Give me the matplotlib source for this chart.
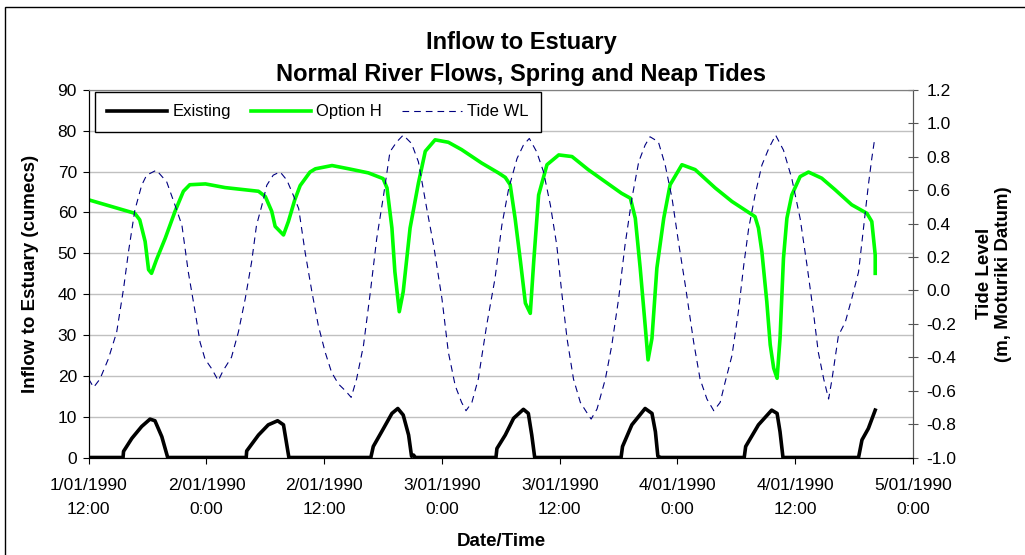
import matplotlib
matplotlib.use('Agg')
import matplotlib.pyplot as plt
from matplotlib.patches import Rectangle
from matplotlib.ticker import FormatStrFormatter

plt.rcParams['font.family'] = ['Liberation Sans', 'DejaVu Sans']
plt.rcParams['axes.unicode_minus'] = False

# hours after 1/01/1990 12:00
existingHours = [0, 3.5, 3.55, 4.4, 5.4, 6.25, 6.75, 7.45, 8.05, 16.05, 16.1, 17.3, 18.3, 19.25, 19.85, 20.4,
                 28.75, 29.0, 29.85, 30.9, 31.5, 32.05, 32.6, 32.9, 33.1, 33.3, 41.5, 41.6, 42.45, 43.3, 44.3,
                 44.8, 45.15, 45.45, 54.25, 54.4, 55.35, 56.7, 57.4, 57.75, 58.0, 58.3, 66.8, 66.95, 68.25,
                 69.6, 70.15, 70.45, 70.75, 78.45, 78.8, 79.45, 80.15]
existing = [0, 0, 1.5, 4.7, 7.6, 9.4, 9.0, 5.1, 0, 0, 1.6, 5.5, 8.0, 9.0, 8.0, 0,
            0, 2.7, 6.3, 10.8, 12.0, 10.4, 5.5, 0.3, 0.6, 0, 0, 2.2, 5.5, 9.6, 11.8,
            10.8, 5.5, 0, 0, 2.7, 8.0, 12.0, 10.8, 6.3, 0.3, 0, 0, 2.7, 8.0,
            11.6, 10.8, 6.3, 0, 0, 4.3, 7.1, 11.6]

optionHours = [0, 4.7, 5.2, 5.75, 6.1, 6.4, 6.9, 7.8, 8.8, 9.65, 10.3, 11.9, 13.9, 17.3, 18.0, 18.65, 19.0,
               19.85, 20.35, 21.0, 21.55, 22.55, 23.1, 24.8, 26.5, 28.5, 30.0, 30.4, 30.9, 31.2, 31.65,
               32.05, 32.75, 33.6, 34.3, 35.3, 36.65, 38.0, 40.05, 41.75, 42.45, 42.95, 43.45, 44.0, 44.5,
               45.0, 45.35, 45.85, 46.7, 47.9, 49.25, 50.9, 52.6, 54.3, 55.2, 55.7, 56.2, 56.7, 57.0, 57.4,
               57.9, 58.6, 59.25, 60.45, 61.8, 63.85, 65.55, 67.9, 68.25, 68.6, 69.1, 69.45, 69.8, 70.15,
               70.45, 70.8, 71.15, 71.65, 72.5, 73.35, 74.7, 76.05, 77.75, 79.3, 79.8, 80.15, 80.15]
optionH = [63.1, 59.8, 58.2, 52.9, 46.0, 45.1, 48.4, 53.7, 60.3, 65.2, 66.8, 67.0, 66.1, 65.2, 63.9, 60.3, 56.6,
           54.5, 57.8, 63.1, 66.6, 69.9, 70.7, 71.5, 70.7, 69.7, 68.3, 66.0, 56.2, 45.5, 35.7,
           40.6, 56.2, 67.2, 75.0, 77.8, 77.2, 75.4, 72.1, 69.7, 68.6, 66.8, 58.6, 48.0, 37.8,
           35.3, 48.0, 64.3, 71.7, 74.1, 73.7, 70.5, 67.6, 64.7, 63.5, 58.6, 46.4, 32.5, 23.9, 29.2,
           46.4, 58.6, 66.8, 71.7, 70.5, 66.0, 62.7, 59.0, 56.2, 50.4, 38.2, 27.6, 21.9, 19.4,
           29.2, 48.8, 58.6, 64.3, 68.8, 69.9, 68.4, 65.6, 61.9, 59.8, 57.8, 49.6, 45.1]

tideHours = [0, 0.5, 1.15, 2.0, 2.85, 3.55, 4.05, 4.7, 5.4, 5.9, 6.9, 7.95, 8.8, 9.5, 10.15, 10.85, 11.35,
             11.85, 12.55, 13.2, 13.7, 14.55, 15.25, 15.95, 16.6, 17.1, 17.65, 18.15, 18.8, 19.5, 20.2,
             20.85, 21.4, 22.05, 22.75, 23.4, 24.1, 24.75, 25.45, 26.15, 26.75, 27.3, 28.0, 28.7, 29.35,
             30.05, 30.7, 31.4, 32.05, 32.9, 33.6, 34.45, 35.15, 36.0, 36.65, 37.35, 38.0, 38.45, 39.05,
             39.7, 40.55, 41.4, 42.1, 42.8, 43.65, 44.3, 44.9, 45.65, 46.35, 47.05, 47.7, 48.2, 48.75,
             49.4, 50.1, 50.75, 51.2, 51.8, 52.65, 53.3, 54.0, 54.65, 55.35, 56.05, 56.7, 57.2, 58.05,
             58.75, 59.45, 60.1, 60.8, 61.65, 62.3, 63.0, 63.7, 64.35, 64.85, 65.55, 66.2, 66.75, 67.25,
             67.9, 68.6, 69.3, 70.0, 70.8, 71.65, 72.5, 73.2, 73.85, 74.35, 74.9, 75.4, 75.75, 76.4,
             77.1, 77.75, 78.45, 78.95, 79.45, 79.8, 80.1]
tideWL = [-0.53, -0.58, -0.53, -0.41, -0.25, 0.01, 0.23, 0.48, 0.63, 0.69, 0.72, 0.65, 0.51, 0.39, 0.11, -0.13, -0.31,
          -0.41, -0.47, -0.54, -0.48, -0.40, -0.25, -0.05, 0.17, 0.39, 0.51, 0.63, 0.69, 0.71, 0.66,
          0.57, 0.49, 0.23, -0.01, -0.21, -0.37, -0.49, -0.56, -0.60, -0.64, -0.53, -0.33, -0.01, 0.31,
          0.57, 0.83, 0.89, 0.93, 0.88, 0.77, 0.49, 0.27, -0.05, -0.37, -0.57, -0.67, -0.72, -0.67,
          -0.53, -0.21, 0.07, 0.39, 0.61, 0.79, 0.87, 0.91, 0.83, 0.71, 0.51, 0.27, -0.01, -0.29,
          -0.53, -0.67, -0.73, -0.77, -0.71, -0.53, -0.33, -0.05, 0.27, 0.55, 0.77, 0.87, 0.92, 0.89,
          0.75, 0.55, 0.29, 0.03, -0.31, -0.53, -0.65, -0.72, -0.67, -0.55, -0.39, -0.13, 0.15, 0.37,
          0.57, 0.75, 0.85, 0.93, 0.84, 0.67, 0.43, 0.15, -0.13, -0.37, -0.53, -0.65, -0.53, -0.27,
          -0.19, -0.05, 0.11, 0.37, 0.63, 0.79, 0.91]

xTicks = [0, 12, 24, 36, 48, 60, 72, 84]
xTickLabels = ['1/01/1990\n12:00', '2/01/1990\n0:00', '2/01/1990\n12:00', '3/01/1990\n0:00',
               '3/01/1990\n12:00', '4/01/1990\n0:00', '4/01/1990\n12:00', '5/01/1990\n0:00']

W, H = 1025, 555
fig = plt.figure(figsize=(W / 100, H / 100), dpi=100)
ax = fig.add_axes([88.7 / W, 1 - 457.5 / H, 824.3 / W, 367.5 / H])

ax.plot(existingHours, existing, color='black', lw=2.6, label='Existing', solid_joinstyle='round')
ax.plot(optionHours, optionH, color='#00FF00', lw=2.6, label='Option H', solid_joinstyle='round')

ax2 = ax.twinx()
ax2.plot(tideHours, tideWL, color='#000080', lw=0.8, dashes=(6, 4.5), label='Tide WL')

ax.set_xlim(0, 84)
ax.set_ylim(0, 90)
ax.set_yticks(range(0, 91, 10))
ax2.set_ylim(-1.0, 1.2)
ax2.set_yticks([-1.0, -0.8, -0.6, -0.4, -0.2, 0.0, 0.2, 0.4, 0.6, 0.8, 1.0, 1.2])
ax2.yaxis.set_major_formatter(FormatStrFormatter('%.1f'))
ax.set_xticks(xTicks)
ax.set_xticklabels(xTickLabels, linespacing=1.7)

ax.grid(axis='y', color='#C0C0C0', lw=1)
ax.set_axisbelow(True)

for a in (ax, ax2):
    a.spines['top'].set_color('#808080')
    a.spines['right'].set_color('#555555')
    a.spines['left'].set_color('black')
    a.spines['bottom'].set_color('black')
ax.tick_params(axis='x', direction='out', length=4, pad=11, labelsize=12.5)
ax.tick_params(axis='y', direction='out', length=4.5, pad=4, labelsize=12.5)
ax2.tick_params(axis='y', direction='inout', length=7, pad=6, labelsize=12.5, color='#555555')

ax.set_xlabel('Date/Time', fontsize=13.5, fontweight='bold', labelpad=12)
ax.set_ylabel('Inflow to Estuary (cumecs)', fontsize=13.5, fontweight='bold', labelpad=13)
ax2.set_ylabel('Tide Level\n(m, Moturiki Datum)', fontsize=13.5, fontweight='bold', labelpad=14)

fig.text(521 / W, 1 - 49 / H, 'Inflow to Estuary', ha='center', va='baseline', fontsize=17, fontweight='bold')
fig.text(521 / W, 1 - 81 / H, 'Normal River Flows, Spring and Neap Tides', ha='center', va='baseline',
         fontsize=17, fontweight='bold')

h1, l1 = ax.get_legend_handles_labels()
h2, l2 = ax2.get_legend_handles_labels()
leg = ax2.legend(h1 + h2, l1 + l2, loc='upper left', bbox_to_anchor=(0.0076, 0.9946), borderaxespad=0,
                 ncol=3, fontsize=12, handlelength=3.6, handletextpad=0.3, columnspacing=1.2,
                 fancybox=False, framealpha=1, edgecolor='black', borderpad=0.75)
leg.get_frame().set_linewidth(1)

fig.patches.append(Rectangle((5 / W, -0.1), 1.2, 1.1 - 7 / H, transform=fig.transFigure,
                             fill=False, edgecolor='black', lw=1))

fig.savefig('out.png', dpi=100)
